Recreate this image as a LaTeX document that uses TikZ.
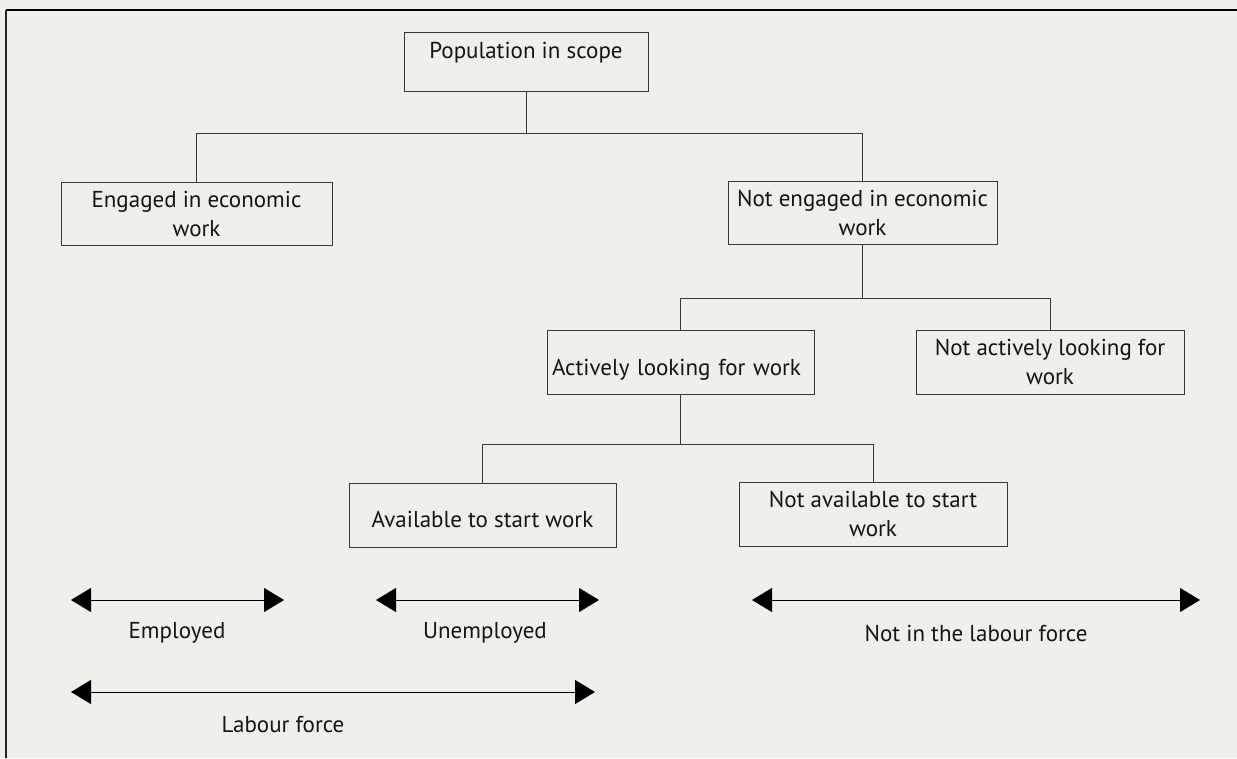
\documentclass[tikz,border=0pt]{standalone}
\usepackage{fontspec}
\setmainfont{PT Sans}
\usetikzlibrary{arrows.meta}
\definecolor{bg}{HTML}{EFEFEB}
\definecolor{ln}{HTML}{383838}
\definecolor{tx}{HTML}{141414}
\begin{document}
\begin{tikzpicture}[x=1pt,y=-1pt,
  box/.style={draw=ln, line width=0.9pt, minimum height=64pt, text=tx, align=center,
              inner sep=0pt, font=\fontsize{23}{29}\selectfont},
  lbl/.style={text=tx, inner sep=0pt, font=\fontsize{23}{29}\selectfont},
  conn/.style={draw=ln, line width=0.9pt},
  span/.style={draw=black, line width=1pt,
               {Triangle[length=20pt,width=24pt]}-{Triangle[length=20pt,width=24pt]}}
]
\fill[bg] (0,0) rectangle (1237,758);
\useasboundingbox (0,0) rectangle (1237,758);

% frame
\draw[black, line width=2pt] (6,10) -- (1237,10);
\draw[black!85, line width=1.4pt] (6,10) -- (6,758);

% boxes
\node[box, minimum width=244pt, minimum height=59pt, text height=16pt, text depth=22pt] (pop) at (526,61.5) {Population in scope};
\node[box, minimum width=271pt, minimum height=63pt] (eng) at (196.5,213.5) {Engaged in economic\\work};
\node[box, minimum width=269pt, minimum height=63pt] (noteng) at (862.5,212.5) {Not engaged in economic\\work};
\node[box, minimum width=267pt, text width=257pt, align=left, text height=27pt, text depth=0pt] (act) at (680.5,362) {Actively looking for work};
\node[box, minimum width=268pt] (notact) at (1050,362) {Not actively looking for\\work};
\node[box, minimum width=267pt, text height=25pt, text depth=0pt] (avail) at (482.5,515) {Available to start work};
\node[box, minimum width=268pt] (notavail) at (873,514) {Not available to start\\work};

% connectors
\draw[conn] (pop.south) -- ++(0,42) coordinate (j1);
\draw[conn] (eng.north) |- (j1) -| (noteng.north);
\draw[conn] (noteng.south) -- ++(0,54) coordinate (j2);
\draw[conn] (act.north) |- (j2) -| (notact.north);
\draw[conn] (act.south) -- ++(0,50) coordinate (j3);
\draw[conn] (avail.north) |- (j3) -| (notavail.north);

% spans
\coordinate (e1) at (71,600);  \coordinate (e2) at (284,600);
\coordinate (u1) at (376,600); \coordinate (u2) at (599,600);
\coordinate (n1) at (752,600); \coordinate (n2) at (1200,600);
\coordinate (l1) at (71,692);  \coordinate (l2) at (595,692);
\draw[span] (e1) -- (e2);
\draw[span] (u1) -- (u2);
\draw[span] (n1) -- (n2);
\draw[span] (l1) -- (l2);

\node[lbl] (temp) at (177,633) {Employed};
\node[lbl] (tunemp) at (485,633) {Unemployed};
\node[lbl] (tnotlf) at (976,633) {Not in the labour force};
\node[lbl] (tlab) at (283,725) {Labour force};
\end{tikzpicture}
\end{document}
